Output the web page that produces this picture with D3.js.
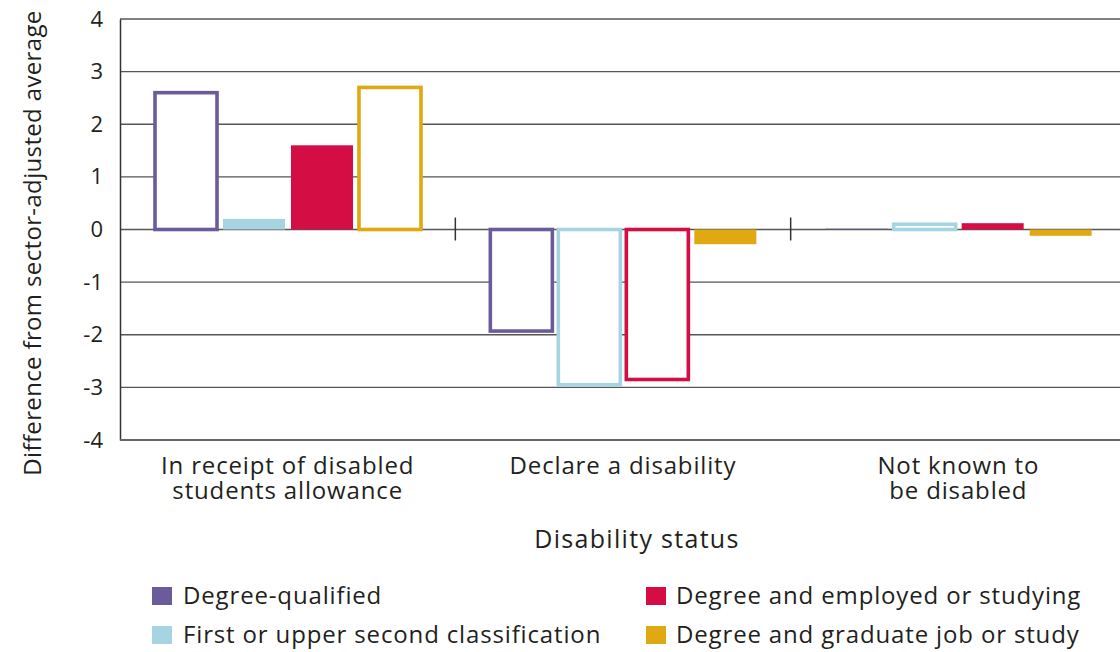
<!DOCTYPE html>
<html><head><meta charset="utf-8">
<script src="https://cdn.jsdelivr.net/npm/d3@7"></script>
<style>
html,body{margin:0;padding:0;background:#fff;}
svg text{font-family:"Open Sans",sans-serif;fill:#231f20;}
</style></head>
<body>
<svg id="chart" width="1120" height="652"></svg>
<script>
// ---- data ----
const categories = [["In receipt of disabled","students allowance"],["Declare a disability"],["Not known to","be disabled"]];
const seriesNames = ["Degree-qualified","First or upper second classification","Degree and employed or studying","Degree and graduate job or study"];
const seriesColors = ["#6c5b9b","#a6d5e1","#d40e45","#e0a912"];
const degreeQualified = [2.6, -1.93, 0.02];
const firstUpper = [0.2, -2.95, 0.1];
const employedStudying = [1.6, -2.85, 0.12];
const graduateJob = [2.7, -0.28, -0.12];
// outlined (hollow) bars
const outlinedDegree = [true, true, false];
const outlinedFirst = [false, true, true];
const outlinedEmployed = [false, true, false];
const outlinedGraduate = [true, false, false];
const yTicks = [-4,-3,-2,-1,0,1,2,3,4];
const yTitle = "Difference from sector-adjusted average";
const xTitle = "Disability status";

const seriesValues = [degreeQualified, firstUpper, employedStudying, graduateJob];
const seriesOutlined = [outlinedDegree, outlinedFirst, outlinedEmployed, outlinedGraduate];

const svg = d3.select("#chart");
const pLeft = 120, pRight = 1126, pTop = 19, pBottom = 440;

const x0 = d3.scaleBand().domain(d3.range(categories.length)).range([pLeft, pRight]).padding(0);
const x1 = d3.scaleBand().domain(d3.range(seriesNames.length)).range([35, 301]).paddingInner(0.088).paddingOuter(0);
const y = d3.scaleLinear().domain([-4, 4]).range([pBottom, pTop]);

// gridlines
svg.append("g").selectAll("line").data(yTicks.filter(t => t > -4)).join("line")
  .attr("x1", pLeft).attr("x2", pRight + 10)
  .attr("y1", d => y(d)).attr("y2", d => y(d))
  .attr("stroke", "#555").attr("stroke-width", 1.4);

// y axis
const yAxis = d3.axisLeft(y).tickValues(yTicks).tickSize(0).tickPadding(17).tickFormat(d => String(d));
const ya = svg.append("g").attr("transform", `translate(${pLeft},0)`).call(yAxis);
ya.select(".domain").attr("stroke", "#333").attr("stroke-width", 1.5);
ya.selectAll("text").style("font-size", "22px").style("font-family", "Open Sans").attr("fill", "#231f20");

// bottom line
svg.append("line").attr("x1", pLeft).attr("x2", pRight + 10).attr("y1", y(-4)).attr("y2", y(-4))
  .attr("stroke", "#666").attr("stroke-width", 2.2);

// group separator ticks at zero
svg.append("g").selectAll("line").data(d3.range(1, categories.length)).join("line")
  .attr("x1", d => x0(d)).attr("x2", d => x0(d))
  .attr("y1", y(0) - 12).attr("y2", y(0) + 11)
  .attr("stroke", "#333").attr("stroke-width", 1.5);

// bars
const sw = 3.6;
const barData = [];
seriesValues.forEach((vals, s) => vals.forEach((v, c) => barData.push({s, c, v, o: seriesOutlined[s][c]})));
const bars = svg.append("g");
barData.forEach(d => {
  const bx = x0(d.c) + x1(d.s), bw = x1.bandwidth();
  const y0 = y(Math.max(0, d.v)), h = Math.abs(y(d.v) - y(0));
  if (d.o) {
    bars.append("rect").attr("x", bx).attr("y", y0)
      .attr("width", bw).attr("height", h)
      .attr("fill", "#fff").attr("stroke", seriesColors[d.s]).attr("stroke-width", sw);
  } else {
    bars.append("rect").attr("x", bx).attr("y", y0).attr("width", bw).attr("height", Math.max(h, 1))
      .attr("fill", seriesColors[d.s]).attr("opacity", h < 2 ? 0.6 : 1);
  }
});

// category labels
const cl = svg.append("g");
categories.forEach((lines, i) => {
  lines.forEach((ln, j) => cl.append("text").attr("text-anchor", "middle")
    .style("font-size", "24px").style("letter-spacing", "0.85px")
    .attr("x", x0(i) + x0.bandwidth() / 2).attr("y", 474 + j * 25).text(ln));
});

// axis titles
svg.append("text").attr("text-anchor", "middle").style("font-size", "25px").style("letter-spacing", "1.3px")
  .attr("x", 637).attr("y", 548).text(xTitle);
svg.append("text").attr("text-anchor", "middle").style("font-size", "24px").style("letter-spacing", "0.35px")
  .attr("transform", "translate(41,243) rotate(-90)").text(yTitle);

// legend
const legPos = [[152, 587], [152, 626], [646, 587], [646, 626]];
const leg = svg.append("g");
seriesNames.forEach((n, i) => {
  const [lx, ly] = legPos[i];
  leg.append("rect").attr("x", lx).attr("y", ly).attr("width", 20).attr("height", 18).attr("fill", seriesColors[i]);
  leg.append("text").attr("x", i < 2 ? 183 : 676).attr("y", ly + 17)
    .style("font-size", "24px").style("letter-spacing", "0.85px").text(n);
});
</script>
</body></html>
